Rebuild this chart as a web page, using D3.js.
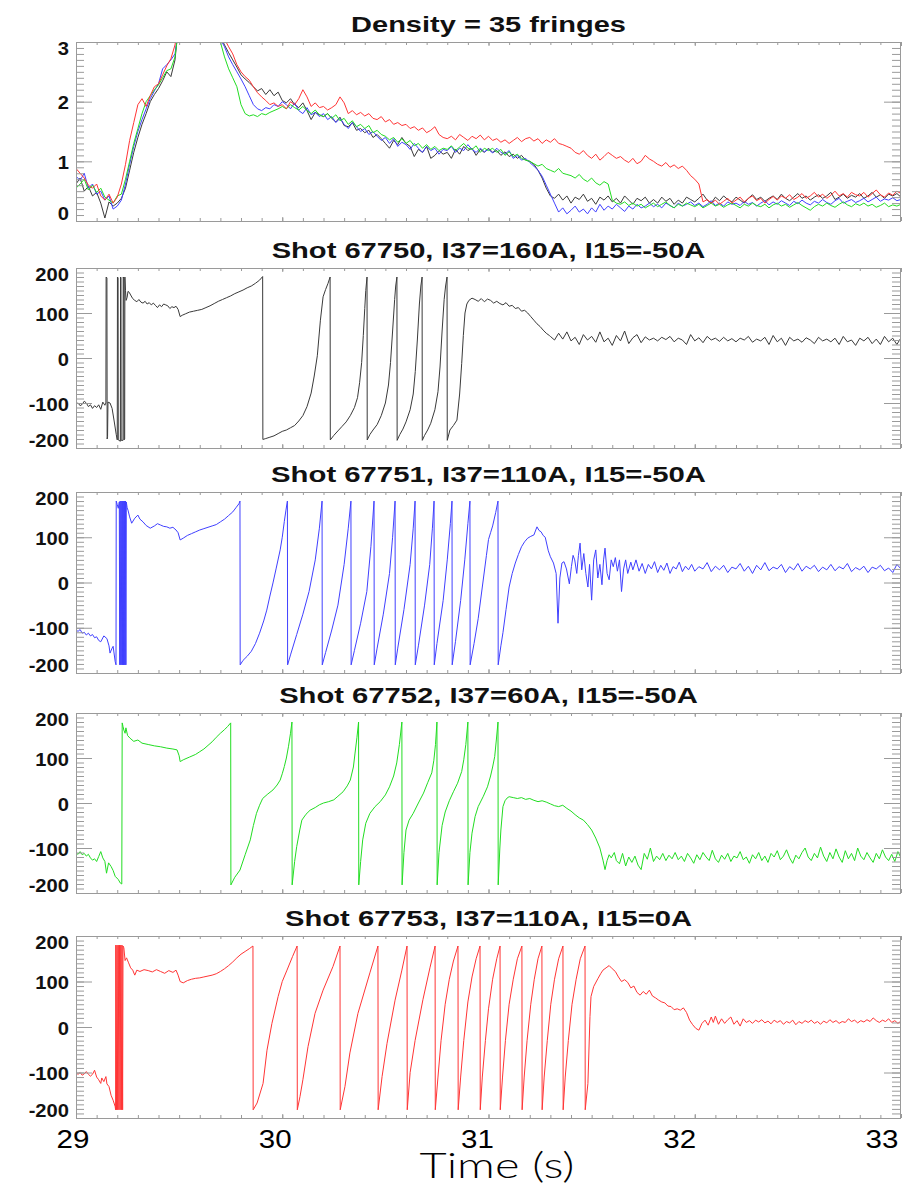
<!DOCTYPE html>
<html>
<head>
<meta charset="utf-8">
<script src="https://cdn.jsdelivr.net/npm/d3@7"></script>
<style>
  html, body { margin: 0; padding: 0; background: #fff; }
  svg { display: block; }
</style>
</head>
<body>
<svg id="chart" width="906" height="1188"></svg>
<script>
// ---------- data ----------
const timeTicks = [29, 30, 31, 32, 33];
const densityTicks = [0, 1, 2, 3];
const phaseTicks = [-200, -100, 0, 100, 200];
const panelTitles = [
  "Density = 35 fringes",
  "Shot 67750, I37=160A, I15=-50A",
  "Shot 67751, I37=110A, I15=-50A",
  "Shot 67752, I37=60A, I15=-50A",
  "Shot 67753, I37=110A, I15=0A"
];
const axisTitle = "Time (s)";

// line-averaged density, sampled every 20 ms from t = 29.00 s
const densityStart = 29.0;
const densityStep = 0.02;
const densityBlack = [
0.62,0.72,0.50,0.58,0.42,0.48,0.30,0.05,0.32,0.25,
0.30,0.38,0.55,0.85,1.15,1.40,1.62,1.80,2.00,2.12,
2.22,2.35,2.50,2.42,2.70,3.40,4.10,4.60,4.90,5.00,
4.90,4.60,4.20,3.80,3.40,3.10,2.95,2.82,2.70,2.58,
2.45,2.38,2.32,2.25,2.18,2.22,2.12,2.20,2.10,2.16,
2.02,1.98,2.05,1.95,1.90,1.98,1.85,1.70,1.82,1.78,
1.75,1.80,1.72,1.66,1.74,1.60,1.58,1.65,1.52,1.55,
1.48,1.52,1.40,1.45,1.38,1.30,1.22,1.35,1.28,1.40,
1.30,1.25,1.08,1.20,1.15,1.25,1.05,1.10,1.18,1.12,
1.15,1.05,1.20,1.12,1.25,1.18,1.22,1.10,1.20,1.15,
1.22,1.15,1.18,1.10,1.16,1.08,1.12,1.05,1.10,1.02,
1.00,0.95,0.85,0.72,0.55,0.42,0.38,0.45,0.35,0.42,
0.30,0.40,0.36,0.45,0.33,0.38,0.28,0.40,0.35,0.42,
0.32,0.38,0.30,0.42,0.35,0.28,0.38,0.34,0.40,0.30,
0.36,0.30,0.40,0.33,0.38,0.28,0.35,0.30,0.40,0.36,
0.32,0.38,0.45,0.35,0.30,0.40,0.34,0.42,0.36,0.32,
0.40,0.35,0.30,0.38,0.44,0.36,0.40,0.33,0.38,0.42,
0.36,0.45,0.38,0.34,0.40,0.46,0.38,0.42,0.35,0.40,
0.44,0.38,0.42,0.48,0.36,0.40,0.45,0.38,0.43,0.40,
0.46,0.38,0.42,0.48,0.40,0.44,0.38,0.45,0.42,0.46,
0.40,0.43];
const densityBlue = [
0.75,0.68,0.80,0.55,0.62,0.45,0.50,0.35,0.42,0.20,
0.25,0.35,0.62,0.95,1.25,1.50,1.70,1.88,2.05,2.18,
2.30,2.55,2.62,2.70,2.80,3.30,4.00,4.50,4.80,5.00,
4.90,4.60,4.20,3.80,3.40,3.05,2.92,2.75,2.62,2.50,
2.38,2.25,2.10,1.95,1.88,1.85,1.90,1.88,1.95,1.92,
2.00,1.95,1.88,1.98,1.85,1.80,1.90,1.78,1.82,1.75,
1.80,1.70,1.75,1.65,1.72,1.62,1.55,1.65,1.58,1.50,
1.55,1.45,1.50,1.42,1.35,1.40,1.30,1.38,1.25,1.32,
1.28,1.20,1.30,1.22,1.15,1.25,1.18,1.22,1.12,1.20,
1.18,1.25,1.15,1.22,1.18,1.28,1.20,1.15,1.22,1.16,
1.20,1.14,1.22,1.15,1.12,1.18,1.05,1.10,1.02,1.05,
0.98,0.92,0.85,0.75,0.60,0.45,0.30,0.15,0.22,0.12,
0.18,0.25,0.15,0.20,0.12,0.22,0.15,0.28,0.18,0.25,
0.20,0.28,0.22,0.16,0.25,0.20,0.28,0.22,0.25,0.30,
0.24,0.28,0.22,0.30,0.26,0.22,0.30,0.25,0.28,0.32,
0.26,0.30,0.24,0.28,0.34,0.26,0.30,0.25,0.32,0.28,
0.30,0.26,0.33,0.28,0.31,0.25,0.30,0.34,0.27,0.32,
0.28,0.34,0.30,0.26,0.33,0.29,0.35,0.30,0.27,0.33,
0.30,0.36,0.31,0.28,0.34,0.38,0.30,0.33,0.36,0.31,
0.34,0.38,0.32,0.36,0.40,0.33,0.37,0.35,0.39,0.34,
0.36,0.33];
const densityGreen = [
0.55,0.62,0.70,0.52,0.60,0.48,0.55,0.40,0.35,0.30,
0.42,0.45,0.70,1.00,1.30,1.55,1.80,2.00,2.10,2.20,
2.28,2.40,2.52,2.55,2.75,3.30,4.00,4.50,4.80,5.00,
4.80,4.40,4.00,3.60,3.25,3.00,2.75,2.55,2.40,2.25,
1.95,1.80,1.76,1.78,1.75,1.80,1.78,1.82,1.85,1.88,
1.92,1.88,1.95,1.90,1.86,1.92,1.85,1.80,1.86,1.78,
1.75,1.80,1.72,1.78,1.68,1.72,1.62,1.68,1.58,1.62,
1.55,1.60,1.48,1.52,1.45,1.42,1.36,1.40,1.32,1.38,
1.30,1.35,1.26,1.30,1.22,1.28,1.20,1.25,1.18,1.22,
1.20,1.26,1.18,1.24,1.30,1.22,1.20,1.26,1.15,1.22,
1.18,1.22,1.15,1.20,1.10,1.16,1.08,1.12,1.05,1.02,
1.00,0.96,0.92,0.95,0.88,0.85,0.82,0.88,0.80,0.78,
0.76,0.72,0.78,0.70,0.66,0.72,0.64,0.60,0.66,0.62,
0.35,0.30,0.28,0.32,0.26,0.30,0.25,0.28,0.22,0.26,
0.30,0.24,0.28,0.32,0.26,0.22,0.28,0.25,0.30,0.27,
0.24,0.28,0.22,0.26,0.30,0.25,0.28,0.23,0.27,0.30,
0.26,0.22,0.28,0.25,0.30,0.26,0.24,0.28,0.22,0.27,
0.30,0.25,0.28,0.23,0.27,0.31,0.26,0.22,0.18,0.24,
0.28,0.25,0.30,0.26,0.23,0.28,0.32,0.27,0.24,0.29,
0.26,0.30,0.25,0.28,0.23,0.26,0.30,0.24,0.27,0.25,
0.28,0.26];
const densityRed = [
0.88,0.80,0.72,0.60,0.55,0.62,0.42,0.35,0.45,0.30,
0.40,0.62,0.95,1.35,1.65,1.95,2.05,1.92,2.10,2.25,
2.30,2.45,2.60,2.72,2.95,3.40,4.00,4.50,4.80,5.00,
4.90,4.70,4.40,4.10,3.70,3.30,3.05,2.92,2.80,2.62,
2.50,2.42,2.36,2.25,2.15,2.08,2.02,1.95,1.98,1.92,
1.95,1.88,2.00,1.95,2.05,2.20,2.08,1.92,1.98,1.90,
1.92,1.86,1.90,1.95,2.08,1.98,1.80,1.85,1.78,1.82,
1.76,1.80,1.72,1.70,1.75,1.66,1.70,1.62,1.65,1.60,
1.62,1.55,1.58,1.52,1.56,1.48,1.52,1.58,1.45,1.40,
1.38,1.42,1.36,1.45,1.40,1.35,1.42,1.38,1.44,1.36,
1.42,1.35,1.38,1.32,1.36,1.30,1.35,1.40,1.33,1.38,
1.40,1.34,1.38,1.30,1.36,1.32,1.38,1.30,1.28,1.25,
1.22,1.15,1.12,1.18,1.10,1.05,1.12,1.02,1.08,1.15,
1.10,1.05,1.08,1.02,0.98,1.05,0.96,1.00,1.10,1.04,
1.00,0.95,0.92,0.98,0.90,0.94,0.88,0.92,0.85,0.76,
0.70,0.62,0.32,0.36,0.30,0.35,0.28,0.33,0.38,0.30,
0.35,0.40,0.32,0.38,0.42,0.34,0.38,0.30,0.36,0.41,
0.35,0.42,0.38,0.44,0.36,0.40,0.46,0.38,0.42,0.48,
0.40,0.45,0.38,0.43,0.50,0.42,0.46,0.40,0.48,0.44,
0.42,0.48,0.40,0.46,0.52,0.44,0.40,0.47,0.43,0.50,
0.46,0.44];

// interferometer phase [time (s), phase (deg)] for each shot
const phase67750 = [
[29.00,-102],[29.01,-100],[29.02,-106],[29.03,-103],[29.04,-96],[29.05,-100],[29.06,-108],[29.07,-104],[29.08,-112],[29.09,-106],[29.10,-110],[29.11,-104],[29.12,-114],[29.13,-98],[29.14,-105],
[29.145,-100],[29.146,180],[29.150,178],[29.151,-180],[29.153,-175],[29.155,-98],[29.165,-100],[29.175,-112],[29.185,-140],[29.195,-170],[29.200,-182],
[29.201,180],[29.204,178],[29.205,-182],[29.215,-185],[29.216,180],[29.218,178],[29.219,-183],[29.228,-183],[29.229,180],[29.232,176],[29.233,-182],[29.236,-180],[29.237,180],
[29.240,150],[29.243,128],[29.248,135],[29.252,148],[29.258,146],[29.265,140],[29.275,132],[29.285,128],[29.295,125],[29.305,130],[29.315,124],[29.325,122],[29.335,126],[29.345,120],[29.355,123],[29.365,118],[29.375,122],[29.385,117],[29.395,112],[29.405,118],[29.415,114],[29.425,120],[29.435,118],[29.445,116],[29.455,110],[29.465,114],[29.475,112],[29.485,115],[29.495,108],[29.500,100],[29.505,92],
[29.515,95],[29.53,98],[29.55,102],[29.57,104],[29.59,106],[29.61,108],[29.63,112],[29.65,116],[29.67,121],[29.69,126],[29.71,130],[29.73,134],[29.75,138],[29.77,143],[29.79,147],[29.81,151],[29.83,156],[29.85,160],[29.87,166],[29.89,173],[29.905,181],
[29.906,-181],[29.92,-179],[29.94,-176],[29.96,-173],[29.98,-168],[30.00,-163],[30.02,-160],[30.04,-155],[30.06,-150],[30.08,-140],[30.10,-128],[30.12,-108],[30.14,-78],[30.155,-40],[30.17,5],[30.185,84],[30.198,136],[30.21,152],[30.222,166],[30.232,180],
[30.233,-182],[30.25,-172],[30.27,-162],[30.29,-152],[30.31,-142],[30.33,-128],[30.35,-110],[30.365,-88],[30.375,-55],[30.385,-10],[30.393,50],[30.40,110],[30.405,150],[30.411,180],
[30.412,-182],[30.425,-170],[30.44,-160],[30.46,-148],[30.48,-128],[30.50,-100],[30.515,-60],[30.525,-10],[30.535,60],[30.545,130],[30.55,160],[30.556,180],
[30.557,-183],[30.57,-170],[30.585,-158],[30.60,-142],[30.62,-115],[30.635,-80],[30.645,-30],[30.655,40],[30.665,120],[30.672,160],[30.678,180],
[30.679,-183],[30.69,-172],[30.705,-160],[30.72,-145],[30.74,-115],[30.755,-75],[30.765,-20],[30.775,60],[30.785,130],[30.792,160],[30.799,180],
[30.800,-183],[30.813,-160],[30.83,-150],[30.847,-138],[30.86,-80],[30.87,-12],[30.878,50],[30.886,100],[30.895,120],[30.905,128],[30.92,133],[30.935,130],[30.95,126],[30.965,132],[30.98,125],[30.995,131],[31.01,128],[31.025,122],[31.04,126],[31.055,121],[31.07,118],[31.085,123],[31.10,115],[31.115,117],[31.13,110],[31.145,112],[31.16,104],[31.175,106],[31.19,100],[31.205,92],[31.22,84],[31.235,76],[31.25,70],[31.265,62],[31.28,55],[31.295,50],
[31.30,48],[31.32,40],[31.34,55],[31.36,42],[31.38,58],[31.40,38],[31.42,46],[31.44,30],[31.46,52],[31.48,40],[31.50,48],[31.52,35],[31.54,58],[31.56,36],[31.58,44],[31.60,28],[31.62,50],[31.64,38],[31.66,60],[31.68,32],[31.70,45],[31.72,52],[31.74,34],[31.76,47],[31.78,40],[31.80,44],[31.82,38],[31.84,46],[31.86,41],[31.88,48],[31.90,36],[31.92,44],[31.94,40],[31.96,30],[31.98,52],
[32.00,38],[32.02,45],[32.04,34],[32.06,48],[32.08,40],[32.10,44],[32.12,37],[32.14,46],[32.16,38],[32.18,43],[32.20,36],[32.22,44],[32.24,40],[32.26,48],[32.28,35],[32.30,42],[32.32,38],[32.34,46],[32.36,30],[32.38,50],[32.40,36],[32.42,44],[32.44,28],[32.46,46],[32.48,38],[32.50,42],[32.52,35],[32.54,45],[32.56,40],[32.58,32],[32.60,46],[32.62,38],[32.64,42],[32.66,36],[32.68,44],[32.70,30],[32.72,48],[32.74,36],[32.76,40],[32.78,28],[32.80,44],[32.82,38],[32.84,46],[32.86,32],[32.88,42],[32.90,30],[32.92,48],[32.94,36],[32.96,44],[32.98,30],[33.00,45],[33.02,40]
];

const phase67751 = [
[29.00,-105],[29.01,-108],[29.02,-104],[29.03,-112],[29.04,-110],[29.05,-116],[29.06,-112],[29.07,-118],[29.08,-115],[29.09,-122],[29.10,-120],[29.11,-128],[29.12,-131],[29.135,-118],[29.15,-124],[29.16,-140],[29.165,-156],[29.175,-145],[29.18,-141],[29.19,-175],[29.194,-182],
[29.195,180],[29.20,172],[29.205,164],[29.21,178],[29.212,-182],
[29.214,180],[29.217,-182],[29.219,180],[29.222,-182],[29.224,180],[29.226,-182],[29.228,180],[29.230,-182],[29.232,180],[29.234,-182],[29.236,180],[29.238,-182],[29.240,180],[29.242,-182],[29.244,178],
[29.248,165],[29.252,160],[29.26,145],[29.27,131],[29.285,142],[29.30,149],[29.31,140],[29.325,134],[29.34,126],[29.36,120],[29.38,125],[29.395,130],[29.41,127],[29.425,124],[29.44,123],[29.455,120],[29.47,122],[29.485,116],[29.495,110],[29.505,94],
[29.52,98],[29.54,104],[29.56,108],[29.58,112],[29.60,116],[29.62,119],[29.64,122],[29.66,125],[29.68,128],[29.70,134],[29.72,140],[29.74,148],[29.76,156],[29.775,165],[29.79,174],[29.795,180],
[29.796,-182],[29.81,-172],[29.83,-163],[29.85,-152],[29.87,-135],[29.89,-112],[29.91,-85],[29.925,-61],[29.94,-30],[29.955,-1],[29.97,30],[29.99,72],[30.00,100],[30.01,135],[30.018,160],[30.025,180],
[30.026,-182],[30.04,-160],[30.07,-115],[30.10,-70],[30.13,-20],[30.16,50],[30.18,120],[30.193,180],
[30.194,-182],[30.21,-155],[30.24,-105],[30.27,-50],[30.30,40],[30.32,120],[30.333,180],
[30.334,-182],[30.35,-150],[30.38,-90],[30.41,-20],[30.43,80],[30.445,180],
[30.446,-182],[30.46,-145],[30.49,-70],[30.52,20],[30.535,100],[30.547,180],
[30.548,-182],[30.56,-145],[30.59,-60],[30.62,40],[30.635,120],[30.644,180],
[30.645,-182],[30.66,-140],[30.69,-50],[30.715,40],[30.728,120],[30.736,180],
[30.737,-182],[30.75,-135],[30.78,-40],[30.80,50],[30.815,130],[30.823,180],
[30.824,-182],[30.84,-130],[30.865,-40],[30.885,50],[30.90,130],[30.910,180],
[30.911,-182],[30.93,-135],[30.95,-80],[30.97,-10],[30.99,60],[31.00,95],[31.01,110],[31.02,125],[31.035,155],[31.046,180],
[31.047,-182],[31.06,-140],[31.07,-111],[31.085,-60],[31.10,-10],[31.115,20],[31.13,43],[31.145,62],[31.16,79],[31.175,90],[31.19,98],[31.205,102],[31.22,105],[31.235,123],[31.245,115],[31.255,112],[31.265,104],[31.275,100],[31.29,70],[31.30,57],[31.315,43],[31.328,20],[31.337,-90],[31.346,10],[31.356,43],[31.366,46],[31.378,30],[31.392,-3],[31.402,35],[31.41,60],[31.418,50],[31.428,20],[31.436,60],[31.444,87],[31.452,28],[31.462,64],[31.472,20],[31.482,-10],[31.49,40],[31.50,-39],[31.51,50],[31.52,72],[31.53,10],[31.54,40],[31.55,-5],[31.558,50],[31.565,76],[31.575,20],[31.585,6],[31.595,50],[31.605,35],[31.615,55],[31.625,25],[31.635,50],[31.645,-20],[31.655,30],[31.665,50],[31.675,20],[31.69,45],
[31.70,28],[31.715,50],[31.73,25],[31.745,42],[31.76,20],[31.775,40],[31.79,30],[31.805,46],[31.82,22],[31.835,38],[31.85,27],[31.865,43],[31.88,20],[31.895,35],[31.91,30],[31.925,45],[31.94,24],[31.955,36],[31.97,28],[31.985,40],[32.00,25],[32.02,35],[32.04,30],[32.06,44],[32.08,24],[32.10,36],[32.12,28],[32.14,38],[32.16,22],[32.18,34],[32.20,30],[32.22,42],[32.24,25],[32.26,36],[32.28,20],[32.30,38],[32.32,28],[32.34,44],[32.36,26],[32.38,34],[32.40,30],[32.42,40],[32.44,22],[32.46,35],[32.48,28],[32.50,42],[32.52,25],[32.54,36],[32.56,30],[32.58,38],[32.60,24],[32.62,34],[32.64,28],[32.66,40],[32.68,26],[32.70,35],[32.72,30],[32.74,42],[32.76,24],[32.78,33],[32.80,28],[32.82,36],[32.84,22],[32.86,34],[32.88,30],[32.90,38],[32.92,26],[32.94,32],[32.96,22],[32.98,40],[33.00,30],[33.02,34]
];

const phase67752 = [
[29.00,-111],[29.01,-114],[29.02,-108],[29.03,-115],[29.04,-112],[29.05,-118],[29.06,-114],[29.07,-122],[29.08,-127],[29.09,-124],[29.10,-130],[29.11,-119],[29.12,-108],[29.13,-122],[29.14,-130],[29.148,-156],[29.158,-133],[29.17,-141],[29.18,-150],[29.19,-163],[29.205,-170],[29.215,-178],[29.222,-180],
[29.224,178],[29.228,170],[29.232,162],[29.238,155],[29.242,167],[29.25,150],[29.262,144],[29.28,137],[29.30,140],[29.32,133],[29.35,130],[29.38,127],[29.41,125],[29.44,122],[29.47,120],[29.49,118],[29.50,105],[29.505,92],
[29.52,96],[29.55,102],[29.58,108],[29.60,114],[29.62,120],[29.64,128],[29.66,136],[29.68,146],[29.70,155],[29.72,163],[29.735,170],[29.75,178],
[29.751,-182],[29.77,-165],[29.795,-149],[29.82,-115],[29.845,-82],[29.86,-50],[29.875,-23],[29.89,-5],[29.905,10],[29.93,20],[29.955,29],[29.975,40],[29.99,51],[30.00,65],[30.01,81],[30.02,100],[30.03,125],[30.04,155],[30.047,180],
[30.048,-182],[30.06,-130],[30.07,-97],[30.085,-60],[30.095,-38],[30.115,-25],[30.135,-16],[30.16,-10],[30.18,-4],[30.20,0],[30.225,3],[30.25,7],[30.27,15],[30.295,25],[30.315,38],[30.33,51],[30.345,80],[30.353,111],[30.362,145],[30.37,180],
[30.371,-182],[30.38,-130],[30.39,-82],[30.405,-45],[30.425,-23],[30.45,-8],[30.475,3],[30.50,18],[30.52,36],[30.54,60],[30.555,89],[30.568,130],[30.58,180],
[30.581,-182],[30.59,-110],[30.60,-60],[30.615,-38],[30.635,-23],[30.66,0],[30.685,22],[30.705,45],[30.725,67],[30.735,95],[30.743,130],[30.75,180],
[30.751,-182],[30.76,-110],[30.775,-50],[30.79,-20],[30.81,5],[30.83,25],[30.85,44],[30.87,70],[30.88,96],[30.89,130],[30.90,180],
[30.901,-182],[30.91,-110],[30.92,-67],[30.935,-30],[30.95,-8],[30.975,15],[30.995,36],[31.01,60],[31.02,80],[31.03,103],[31.038,140],[31.046,180],
[31.047,-182],[31.055,-100],[31.06,-60],[31.07,-8],[31.08,5],[31.09,11],[31.10,14],[31.12,12],[31.14,10],[31.16,12],[31.18,8],[31.20,10],[31.22,6],[31.24,3],[31.26,5],[31.28,2],[31.30,-2],[31.32,-6],[31.34,-8],[31.36,-5],[31.38,-12],[31.40,-18],[31.42,-26],[31.44,-33],[31.46,-38],[31.48,-48],[31.50,-60],[31.52,-78],[31.54,-100],[31.555,-127],[31.565,-148],[31.575,-128],[31.585,-115],[31.595,-122],
[31.61,-110],[31.62,-128],[31.635,-135],[31.65,-112],[31.665,-140],[31.68,-120],[31.695,-132],[31.71,-118],[31.725,-138],[31.74,-148],[31.755,-112],[31.77,-125],[31.785,-100],[31.80,-130],[31.815,-118],[31.83,-126],[31.845,-112],[31.86,-128],[31.875,-116],[31.89,-124],[31.905,-110],[31.92,-126],[31.935,-118],[31.95,-130],[31.965,-112],[31.98,-122],[31.995,-134],
[32.01,-115],[32.025,-126],[32.04,-110],[32.055,-120],[32.07,-128],[32.085,-105],[32.10,-124],[32.115,-132],[32.13,-116],[32.145,-125],[32.16,-112],[32.175,-130],[32.19,-118],[32.205,-122],[32.22,-108],[32.235,-126],[32.25,-120],[32.265,-134],[32.28,-115],[32.295,-124],[32.31,-110],[32.325,-128],[32.34,-118],[32.355,-132],[32.37,-112],[32.385,-120],[32.40,-106],[32.415,-126],[32.43,-118],[32.445,-104],[32.46,-122],[32.475,-134],[32.49,-116],[32.505,-124],[32.52,-110],[32.535,-100],[32.55,-120],[32.565,-128],[32.58,-112],[32.595,-122],[32.61,-98],[32.625,-118],[32.64,-130],[32.655,-110],[32.67,-124],[32.685,-102],[32.70,-120],[32.715,-132],[32.73,-106],[32.745,-124],[32.76,-112],[32.775,-128],[32.79,-100],[32.805,-118],[32.82,-126],[32.835,-110],[32.85,-122],[32.865,-132],[32.88,-112],[32.895,-124],[32.91,-104],[32.925,-120],[32.94,-128],[32.955,-114],[32.97,-130],[32.985,-108],[33.00,-122],[33.02,-118]
];

const phase67753 = [
[29.00,-101],[29.01,-104],[29.02,-100],[29.03,-106],[29.04,-103],[29.05,-98],[29.06,-104],[29.07,-108],[29.08,-104],[29.09,-95],[29.10,-110],[29.11,-116],[29.12,-124],[29.125,-112],[29.135,-120],[29.145,-109],[29.15,-125],[29.16,-131],[29.17,-150],[29.18,-161],[29.19,-175],[29.192,-182],
[29.193,180],[29.196,-182],[29.199,180],[29.202,-182],[29.205,180],[29.208,-182],[29.211,180],[29.214,-182],[29.217,180],[29.220,-182],[29.223,180],[29.226,-182],[29.228,178],
[29.232,174],[29.238,146],[29.245,152],[29.255,141],[29.265,130],[29.275,125],[29.285,114],[29.295,125],[29.31,122],[29.33,126],[29.35,124],[29.37,121],[29.39,126],[29.41,122],[29.43,118],[29.45,124],[29.47,120],[29.485,125],[29.495,114],[29.505,100],
[29.52,97],[29.54,102],[29.56,105],[29.58,107],[29.60,108],[29.62,110],[29.64,112],[29.66,114],[29.68,117],[29.70,122],[29.72,128],[29.74,135],[29.76,143],[29.78,152],[29.80,160],[29.82,166],[29.84,172],[29.858,178],
[29.859,-182],[29.878,-167],[29.907,-124],[29.926,-51],[29.95,8],[29.98,67],[30.00,100],[30.023,125],[30.05,155],[30.072,178],
[30.073,-182],[30.086,-153],[30.10,-116],[30.125,-43],[30.159,30],[30.198,81],[30.246,133],[30.28,178],
[30.281,-182],[30.304,-131],[30.328,-57],[30.367,30],[30.425,119],[30.464,178],
[30.465,-182],[30.484,-109],[30.508,-36],[30.547,59],[30.58,125],[30.605,178],
[30.606,-182],[30.62,-100],[30.644,-30],[30.682,60],[30.716,130],[30.741,178],
[30.742,-182],[30.755,-110],[30.77,-30],[30.79,50],[30.81,105],[30.83,145],[30.852,178],
[30.853,-182],[30.865,-110],[30.88,-30],[30.90,55],[30.92,110],[30.94,150],[30.959,178],
[30.960,-182],[30.97,-110],[30.985,-30],[31.00,40],[31.02,105],[31.04,150],[31.056,178],
[31.057,-182],[31.068,-110],[31.082,-30],[31.10,50],[31.12,105],[31.14,150],[31.162,178],
[31.163,-182],[31.173,-110],[31.187,-30],[31.205,50],[31.222,105],[31.24,150],[31.259,178],
[31.260,-182],[31.27,-110],[31.285,-30],[31.302,50],[31.32,105],[31.34,150],[31.361,178],
[31.362,-182],[31.372,-110],[31.387,-30],[31.405,50],[31.425,105],[31.445,150],[31.468,178],
[31.469,-182],[31.482,-124],[31.492,23],[31.497,67],[31.51,89],[31.53,106],[31.545,118],[31.555,125],[31.57,130],[31.585,135],[31.60,128],[31.615,122],[31.63,110],[31.645,100],[31.66,104],[31.675,98],[31.69,86],[31.705,90],[31.72,76],[31.735,70],[31.75,78],[31.765,72],[31.78,81],[31.795,68],[31.81,64],[31.825,59],[31.84,55],[31.855,53],[31.87,46],[31.885,45],[31.90,38],[31.915,40],[31.93,37],[31.945,42],[31.96,32],[31.975,15],[31.99,5],[32.005,-3],[32.02,-7],[32.035,8],[32.05,15],[32.065,4],[32.08,22],[32.09,10],[32.10,24],[32.115,6],[32.13,18],[32.145,8],[32.16,16],[32.175,22],[32.19,6],[32.205,14],[32.22,2],[32.235,18],[32.25,10],[32.265,14],[32.28,8],[32.295,15],[32.31,11],[32.325,16],[32.34,9],[32.355,13],[32.37,7],[32.385,15],[32.40,10],[32.415,14],[32.43,6],[32.445,12],[32.46,9],[32.475,15],[32.49,5],[32.505,12],[32.52,8],[32.535,14],[32.55,10],[32.565,15],[32.58,8],[32.595,12],[32.61,6],[32.625,13],[32.64,9],[32.655,16],[32.67,10],[32.685,14],[32.70,8],[32.715,12],[32.73,10],[32.745,18],[32.76,12],[32.775,15],[32.79,9],[32.805,14],[32.82,11],[32.835,16],[32.85,12],[32.865,20],[32.88,14],[32.895,10],[32.91,15],[32.925,12],[32.94,18],[32.955,10],[32.97,14],[32.985,8],[33.00,13],[33.02,11]
];

// ---------- drawing ----------
const svg = d3.select("#chart");
const defs = svg.append("defs");
const frameColor = "#9a9a9a";
const colors = { black: "#3a3a3a", blue: "#4040ff", green: "#22dd22", red: "#ff3535" };

const x = d3.scaleLinear().domain([29, 33]).range([76, 901]);
// the time labels sit on a slightly narrower span than the tick marks
const xLabel = d3.scaleLinear().domain([29, 33]).range([73, 882]);

const toPoints = vals => vals.map((v, i) => [densityStart + i * densityStep, v]);

const panels = [
  { title: panelTitles[0], top: 42, bottom: 221, domain: [0, 3], ticks: densityTicks, minor: 0.1, titleWidth: 275,
    series: [
      { pts: toPoints(densityBlack), color: colors.black },
      { pts: toPoints(densityBlue), color: colors.blue },
      { pts: toPoints(densityGreen), color: colors.green },
      { pts: toPoints(densityRed), color: colors.red }
    ] },
  { title: panelTitles[1], top: 268, bottom: 448, domain: [-200, 200], ticks: phaseTicks, minor: 10, titleWidth: 434,
    series: [{ pts: phase67750, color: colors.black }] },
  { title: panelTitles[2], top: 492, bottom: 673, domain: [-200, 200], ticks: phaseTicks, minor: 10, titleWidth: 435,
    series: [{ pts: phase67751, color: colors.blue }] },
  { title: panelTitles[3], top: 713, bottom: 893, domain: [-200, 200], ticks: phaseTicks, minor: 10, titleWidth: 419,
    series: [{ pts: phase67752, color: colors.green }] },
  { title: panelTitles[4], top: 936, bottom: 1118, domain: [-200, 200], ticks: phaseTicks, minor: 10, titleWidth: 407,
    series: [{ pts: phase67753, color: colors.red }] }
];

const [x0, x1] = x.range();
const xMinor = d3.range(0, 41).map(i => 29 + i * 0.1);

function styleAxis(g) {
  g.select(".domain").remove();
  g.selectAll(".tick line").attr("stroke", frameColor).attr("stroke-width", 1);
  g.selectAll(".tick text").remove();
}

// text stretched horizontally about its anchor point
function stretchedText(parent, str, px, py, opts) {
  const g = parent.append("g").attr("transform", `translate(${px},${py})`);
  const t = g.append("text")
    .attr("text-anchor", opts.anchor || "middle")
    .attr("font-family", opts.family || "'Liberation Sans', Arial, Helvetica, sans-serif")
    .attr("font-weight", opts.weight || "normal")
    .attr("font-size", opts.size)
    .attr("fill", opts.fill || "#111")
    .text(str);
  let sx = opts.stretch || 1;
  if (opts.width) sx = opts.width / t.node().getComputedTextLength();
  t.attr("transform", `scale(${sx},1)`);
  return t;
}

panels.forEach((p, idx) => {
  const y = d3.scaleLinear().domain(p.domain).range([p.bottom, p.top]);
  const g = svg.append("g").attr("class", "panel");

  const clipId = "clip-" + idx;
  defs.append("clipPath").attr("id", clipId)
    .append("rect").attr("x", x0).attr("y", p.top).attr("width", x1 - x0).attr("height", p.bottom - p.top);

  const line = d3.line().x(d => x(d[0])).y(d => y(d[1]));
  const plot = g.append("g").attr("clip-path", `url(#${clipId})`);
  p.series.forEach(s => {
    plot.append("path")
      .datum(s.pts)
      .attr("d", line)
      .attr("fill", "none")
      .attr("stroke", s.color)
      .attr("stroke-width", 1)
      .attr("stroke-linejoin", "round");
  });

  // frame
  g.append("rect")
    .attr("x", x0 + 0.5).attr("y", p.top + 0.5)
    .attr("width", x1 - x0 - 1).attr("height", p.bottom - p.top)
    .attr("fill", "none").attr("stroke", frameColor).attr("stroke-width", 1);

  // y ticks (inward, left and right)
  const yMinor = d3.range(p.domain[0], p.domain[1] + p.minor / 2, p.minor);
  g.append("g").attr("transform", `translate(${x0},0)`)
    .call(d3.axisLeft(y).tickValues(yMinor).tickSize(-8).tickFormat("")).call(styleAxis);
  g.append("g").attr("transform", `translate(${x0},0)`)
    .call(d3.axisLeft(y).tickValues(p.ticks).tickSize(-16).tickFormat("")).call(styleAxis);
  g.append("g").attr("transform", `translate(${x1 - 1},0)`)
    .call(d3.axisRight(y).tickValues(yMinor).tickSize(-8).tickFormat("")).call(styleAxis);
  g.append("g").attr("transform", `translate(${x1 - 1},0)`)
    .call(d3.axisRight(y).tickValues(p.ticks).tickSize(-16).tickFormat("")).call(styleAxis);

  // x ticks (inward, top and bottom)
  g.append("g").attr("transform", `translate(0,${p.top})`)
    .call(d3.axisTop(x).tickValues(xMinor).tickSize(-3).tickFormat("")).call(styleAxis);
  g.append("g").attr("transform", `translate(0,${p.top})`)
    .call(d3.axisTop(x).tickValues(timeTicks).tickSize(-4).tickFormat("")).call(styleAxis);
  g.append("g").attr("transform", `translate(0,${p.bottom})`)
    .call(d3.axisBottom(x).tickValues(xMinor).tickSize(-3).tickFormat("")).call(styleAxis);
  g.append("g").attr("transform", `translate(0,${p.bottom})`)
    .call(d3.axisBottom(x).tickValues(timeTicks).tickSize(-4).tickFormat("")).call(styleAxis);

  // y tick labels; end labels pulled inside the frame
  const lo = p.domain[0], hi = p.domain[1];
  p.ticks.forEach(v => {
    const shift = v === hi ? 6.5 : (v === lo ? -7.5 : 1);
    stretchedText(g, String(v), 69, y(v) + shift + 6.5,
      { anchor: "end", weight: "bold", size: 18, stretch: 1.12 });
  });

  // panel title
  stretchedText(g, p.title, (x0 + x1) / 2, p.top - 10.5,
    { anchor: "middle", weight: "bold", size: 22, width: p.titleWidth });
});

// time axis labels
const last = panels[panels.length - 1];
timeTicks.forEach(t => {
  stretchedText(svg, String(t), xLabel(t), last.bottom + 30,
    { anchor: "middle", size: 25, stretch: 1.18, fill: "#000" });
});
stretchedText(svg, axisTitle, 497, 1178,
  { anchor: "middle", size: 35, width: 155, fill: "#000",
    family: "'Lato', 'DejaVu Sans', sans-serif", weight: 300 });
</script>
</body>
</html>
